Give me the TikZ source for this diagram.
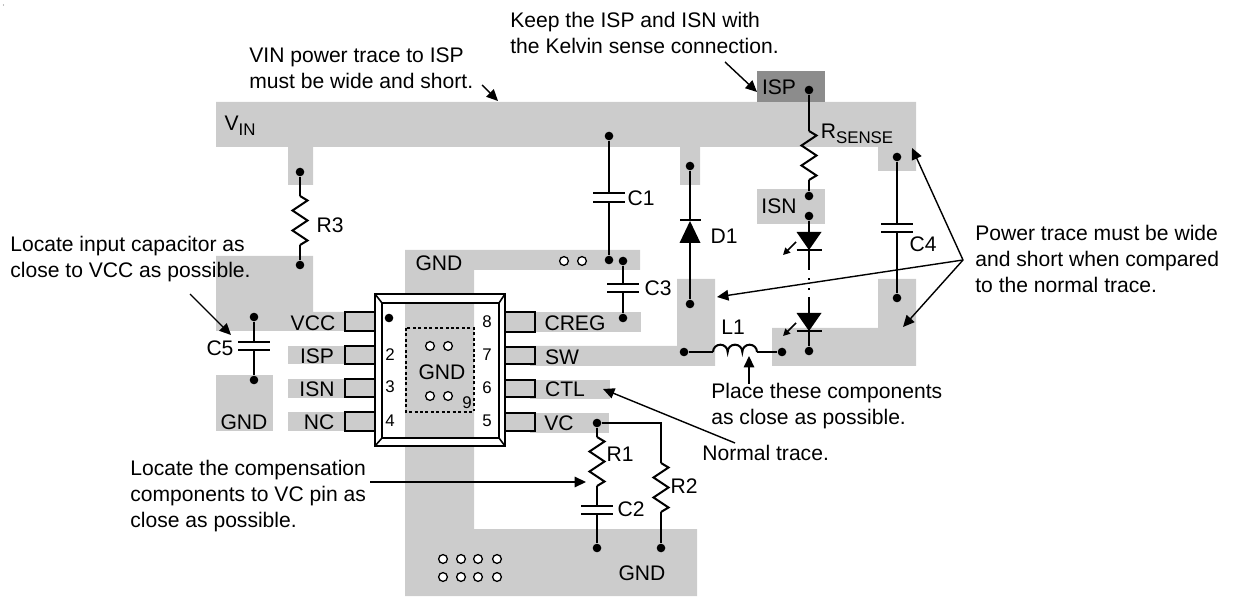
\documentclass[tikz,border=0pt]{standalone}
\usepackage{fontspec}
\setmainfont{Liberation Sans}
\usetikzlibrary{%
        arrows.meta
    }
\definecolor{trace}{RGB}{204, 204, 204}
\definecolor{sense}{RGB}{140, 140, 140}
\newcommand{\lowtext}[1]{\raisebox{-2.8pt}{\fontsize{9.6}{12}\selectfont #1}}
\tikzset{
    dot/.style={circle, fill=black, inner sep=0pt, minimum size=4.9pt},
    via/.style={circle, draw, line width=0.75pt, fill=white, inner sep=0pt, minimum size=5pt},
    txt/.style={inner sep=0pt, font=\fontsize{12}{14.7}\selectfont},
    note/.style={txt, align=left, anchor=west},
    pinnum/.style={inner sep=0pt, font=\fontsize{9.6}{10}\selectfont},
    wire/.style={line width=1.15pt},
    callout/.style={-{Triangle[length=6.5pt,width=6pt]}, line width=0.8pt},
    pad/.style={draw, line width=0.9pt, fill=trace},
    cap/.pic={
        \draw[wire] (-16,-4.2) -- (16,-4.2) (-16,4.2) -- (16,4.2);
        \coordinate (-a) at (0,-4.2);
        \coordinate (-b) at (0,4.2);
    },
    res/.pic={
        \draw[wire] (0,0) -- (7.5,4.5) -- (-7.5,14.5) -- (7.5,24.5) -- (-7.5,34.5)
            -- (7.5,44.5) -- (0,49);
        \coordinate (-a) at (0,0);
        \coordinate (-b) at (0,49);
    },
    led/.pic={
        \fill (-12.5,0) -- (12.5,0) -- (0,18) -- cycle;
        \draw[wire] (-12.5,18) -- (12.5,18);
        \draw[-{Triangle[length=4pt,width=4pt]}, line width=0.9pt] (-13,10) -- (-26,23);
        \coordinate (-a) at (0,0);
        \coordinate (-b) at (0,18);
    }
}

\begin{document}
\begin{tikzpicture}[x=0.02cm, y=-0.02cm]
    \useasboundingbox (0, 0) rectangle (1233, 597);
    \fill[gray] (3.5, 5) circle (0.7);

    % copper
    \fill[trace] (216, 102) -- (916, 102) -- (916, 171)
        -- (878, 171) -- (878, 147) -- (700, 147) -- (700, 185) -- (680, 185)
        -- (680, 147) -- (313, 147) -- (313, 185) -- (288, 185) -- (288, 147)
        -- (216, 147) -- cycle;
    \fill[sense] (757, 71) rectangle (825, 102);
    \fill[trace] (757, 189) rectangle (825, 224);
    \fill[trace] (216, 256) -- (313, 256) -- (313, 312) -- (350, 312) -- (350, 331)
        -- (216, 331) -- cycle;
    \fill[trace] (216, 375) rectangle (273, 431);
    \fill[trace] (288, 346) rectangle (350, 364);
    \fill[trace] (288, 379) rectangle (350, 398);
    \fill[trace] (288, 412) rectangle (350, 431);
    \fill[trace] (405, 250) -- (640, 250) -- (640, 270) -- (474, 270) -- (474, 529)
        -- (697, 529) -- (697, 596) -- (405, 596) -- cycle;
    \fill[trace] (530, 312) rectangle (641, 332);
    \fill[trace] (530, 346) -- (677, 346) -- (677, 279) -- (715, 279) -- (715, 366)
        -- (530, 366) -- cycle;
    \fill[trace] (530, 380) rectangle (610, 399);
    \fill[trace] (530, 413) rectangle (609, 433);
    \fill[trace] (772, 328) -- (878, 328) -- (878, 279) -- (916, 279) -- (916, 366)
        -- (772, 366) -- cycle;

    % package
    \fill[white, even odd rule] (375, 294) rectangle (505, 446) (382, 303) rectangle (499, 438);
    \draw[line width=0.9pt] (375, 294) rectangle (505, 446);
    \draw[line width=0.9pt] (382, 303) rectangle (499, 438);
    \draw[line width=0.9pt] (375, 294) -- (382, 303) (505, 294) -- (499, 303)
        (375, 446) -- (382, 438) (505, 446) -- (499, 438);
    \draw[pad] (345, 312) rectangle (375, 331);
    \draw[pad] (345, 346) rectangle (375, 364);
    \draw[pad] (345, 379) rectangle (375, 397);
    \draw[pad] (345, 412) rectangle (375, 431);
    \draw[pad] (505, 312) rectangle (535, 332);
    \draw[pad] (505, 347) rectangle (535, 364);
    \draw[pad] (505, 380) rectangle (535, 397);
    \draw[pad] (505, 413) rectangle (535, 431);
    \draw[line width=1.4pt, dash pattern=on 1.7pt off 1.4pt] (406, 328) rectangle (474, 412);
    \node[dot] (pin1) at (389, 318) {};
    \node[pinnum] (n2) at (390, 355) {2};
    \node[pinnum] (n3) at (390, 387) {3};
    \node[pinnum] (n4) at (390, 421) {4};
    \node[pinnum] (n5) at (487, 421) {5};
    \node[pinnum] (n6) at (487, 388) {6};
    \node[pinnum] (n7) at (487, 355) {7};
    \node[pinnum] (n8) at (487, 322) {8};
    \node[pinnum] (n9) at (467, 403) {9};

    % vias
    \foreach \x/\y in {430/346, 448/346, 430/396, 448/396, 564/261, 582/261} {
        \node[via] at (\x, \y) {};
    }
    \foreach \x in {443, 461, 478, 497} {
        \node[via] at (\x, 559) {};
        \node[via] at (\x, 577) {};
    }

    % terminals
    \node[dot] (c1top) at (609, 136) {};
    \node[dot] (c1bot) at (609, 260) {};
    \node[dot] (c3top) at (623, 261) {};
    \node[dot] (c3bot) at (623, 318) {};
    \node[dot] (d1top) at (690, 166) {};
    \node[dot] (d1bot) at (690, 304) {};
    \node[dot] (isptop) at (809, 90) {};
    \node[dot] (isnup) at (809, 196) {};
    \node[dot] (isnlow) at (809, 216) {};
    \node[dot] (ledbot) at (809, 351) {};
    \node[dot] (c4top) at (897, 157) {};
    \node[dot] (c4bot) at (897, 298) {};
    \node[dot] (r3top) at (300, 172) {};
    \node[dot] (r3bot) at (300, 265) {};
    \node[dot] (c5top) at (254, 317) {};
    \node[dot] (c5bot) at (254, 380) {};
    \node[dot] (swdot) at (684, 352) {};
    \node[dot] (l1dot) at (782, 352) {};
    \node[dot] (vcdot) at (597, 423) {};
    \node[dot] (c2bot) at (597, 548) {};
    \node[dot] (r2bot) at (661, 548) {};

    % parts
    \pic (c1) at (609, 197.5) {cap};
    \pic (c3) at (623, 288) {cap};
    \pic (c4) at (897, 228) {cap};
    \pic (c5) at (254, 346) {cap};
    \pic (c2) at (597, 510) {cap};
    \pic (rs) at (809, 131) {res};
    \pic (r3) at (300, 196) {res};
    \pic (r1) at (597, 437) {res};
    \pic (r2) at (661, 463) {res};
    \pic (led1) at (809, 232) {led};
    \pic (led2) at (809, 313) {led};
    \fill (690, 221) -- (679.5, 243) -- (700.5, 243) -- cycle;
    \coordinate (d1k) at (690, 220);
    \coordinate (d1a) at (690, 243);
    \coordinate (l1a) at (713, 352);
    \coordinate (l1b) at (757, 352);
    \coordinate (r2turn) at (661, 423);
    \coordinate (gapa) at (809, 268);
    \coordinate (gapb) at (809, 297);
    \draw[wire] (680, 220) -- (701, 220);
    \draw[wire] (l1a) arc[start angle=180, end angle=360, radius=7.33]
        arc[start angle=180, end angle=360, radius=7.33]
        arc[start angle=180, end angle=360, radius=7.33];

    \draw[wire] (c1top) -- (c1-a);
    \draw[wire] (c1-b) -- (c1bot);
    \draw[wire] (c3top) -- (c3-a);
    \draw[wire] (c3-b) -- (c3bot);
    \draw[wire] (c4top) -- (c4-a);
    \draw[wire] (c4-b) -- (c4bot);
    \draw[wire] (c5top) -- (c5-a);
    \draw[wire] (c5-b) -- (c5bot);
    \draw[wire] (r3top) -- (r3-a);
    \draw[wire] (r3-b) -- (r3bot);
    \draw[wire] (isptop) -- (rs-a);
    \draw[wire] (rs-b) -- (isnup);
    \draw[wire] (isnlow) -- (led1-a);
    \draw[wire] (led1-b) -- (gapa);
    \draw[wire, dash pattern=on 1.2pt off 4.6pt on 1.2pt off 4.6pt] (gapa) -- (gapb);
    \draw[wire] (gapb) -- (led2-a);
    \draw[wire] (led2-b) -- (ledbot);
    \draw[wire] (d1top) -- (d1k);
    \draw[wire] (d1a) -- (d1bot);
    \draw[wire] (swdot) -- (l1a);
    \draw[wire] (l1b) -- (l1dot);
    \draw[wire] (vcdot) -- (r1-a);
    \draw[wire] (r1-b) -- (c2-a);
    \draw[wire] (c2-b) -- (c2bot);
    \draw[wire] (vcdot) -- (r2turn) -- (r2-a);
    \draw[wire] (r2-b) -- (r2bot);

    % labels
    \node[txt] (vin) at (240, 126) {V\lowtext{IN}};
    \node[txt] (rsense) at (857, 134) {R\lowtext{SENSE}};
    \node[txt] (ispbox) at (779, 87) {ISP};
    \node[txt] (isnbox) at (779, 206) {ISN};
    \node[txt] (lr3) at (330, 225) {R3};
    \node[txt] (lc1) at (641, 198) {C1};
    \node[txt] (ld1) at (724, 236) {D1};
    \node[txt] (lc3) at (658, 288) {C3};
    \node[txt] (lc4) at (923, 244) {C4};
    \node[txt] (ll1) at (733, 327) {L1};
    \node[txt] (lc5) at (220, 348) {C5};
    \node[txt] (lc2) at (631, 509) {C2};
    \node[txt] (lr1) at (620, 454) {R1};
    \node[txt] (lr2) at (684, 486) {R2};
    \node[txt] (gndtop) at (439, 263) {GND};
    \node[txt] (gndpad) at (442, 372) {GND};
    \node[txt] (gndleft) at (244, 422) {GND};
    \node[txt] (gndbot) at (642, 573) {GND};
    \node[txt] (lvcc) at (313, 323) {VCC};
    \node[txt] (lisp) at (317, 356) {ISP};
    \node[txt] (lisn) at (317, 389) {ISN};
    \node[txt] (lnc) at (319, 422) {NC};
    \node[txt] (lcreg) at (575, 323) {CREG};
    \node[txt] (lsw) at (562, 357) {SW};
    \node[txt] (lctl) at (565, 389) {CTL};
    \node[txt] (lvc) at (559, 423) {VC};

    % notes
    \node[note] (kelvin) at (510, 33) {Keep the ISP and ISN with\\the Kelvin sense connection.};
    \node[note] (vinnote) at (249, 68) {VIN power trace to ISP\\must be wide and short.};
    \node[note] (inputnote) at (10, 259) {Locate input capacitor as\\close to VCC as possible.};
    \node[note] (compnote) at (130, 496) {Locate the compensation\\components to VC pin as\\close as possible.};
    \node[note] (placenote) at (711, 406) {Place these components\\as close as possible.};
    \node[note] (normal) at (702, 453) {Normal trace.};
    \node[note] (powernote) at (975, 259) {Power trace must be wide\\and short when compared\\to the normal trace.};

    % callouts
    \coordinate (vinfrom) at (482, 85);
    \coordinate (vinto) at (498, 101);
    \coordinate (ispfrom) at (725, 62);
    \coordinate (ispto) at (757, 92);
    \coordinate (c5from) at (190, 294);
    \coordinate (c5to) at (231, 335);
    \coordinate (r1from) at (370, 482);
    \coordinate (r1to) at (586, 482);
    \coordinate (l1from) at (749, 384);
    \coordinate (l1to) at (749, 356);
    \coordinate (ctlfrom) at (735, 443);
    \coordinate (ctlto) at (603, 389);
    \coordinate (power) at (963, 260);
    \coordinate (swto) at (717, 297);
    \coordinate (c4to) at (912, 148);
    \coordinate (ledto) at (903, 327);
    \draw[callout] (vinfrom) -- (vinto);
    \draw[callout] (ispfrom) -- (ispto);
    \draw[callout] (c5from) -- (c5to);
    \draw[callout] (r1from) -- (r1to);
    \draw[callout] (l1from) -- (l1to);
    \draw[callout] (ctlfrom) -- (ctlto);
    \draw[callout] (power) -- (swto);
    \draw[callout] (power) -- (c4to);
    \draw[callout] (power) -- (ledto);
\end{tikzpicture}
\end{document}
